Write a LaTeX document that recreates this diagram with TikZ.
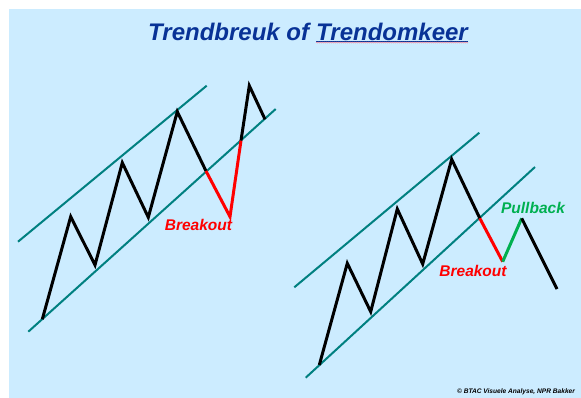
\documentclass[tikz,border=0pt]{standalone}
\usepackage{fontspec}
\setmainfont{Liberation Sans}
\usetikzlibrary{decorations.pathmorphing}
\definecolor{bgblue}{RGB}{204,236,255}
\definecolor{titleblue}{RGB}{8,50,150}
\definecolor{chan}{RGB}{0,128,128}
\definecolor{brk}{RGB}{255,0,0}
\definecolor{pull}{RGB}{0,176,80}
\definecolor{squig}{RGB}{240,140,160}
\tikzset{
  chanline/.style={draw=chan, line width=2pt},
  price/.style={draw=black, line width=3pt},
  brkline/.style={draw=brk, line width=3pt},
  pullline/.style={draw=pull, line width=3pt},
  lbl/.style={font=\fontsize{15.5}{18}\selectfont\bfseries\itshape, inner sep=0pt},
  titletxt/.style={font=\fontsize{24}{28}\selectfont\bfseries\itshape, text=titleblue, inner sep=0pt},
}
\begin{document}
\begin{tikzpicture}[x=1pt,y=-1pt]
\useasboundingbox (0,0) rectangle (581,398);
\fill[white] (0,0) rectangle (581,398);
\fill[bgblue] (9,9) rectangle (581,398);
% title
\node[titletxt, anchor=base west] (t1) at (148,40.3) {Trendbreuk of};
\node[titletxt, anchor=base west] (t2) at ([xshift=6.7pt]t1.base east) {Trendomkeer};
\draw[titleblue, line width=0.9pt] ([yshift=-0.9pt]t2.base west) -- ([yshift=-0.9pt]t2.base east);
\draw[squig, line width=0.5pt, decorate, decoration={zigzag, amplitude=0.5pt, segment length=2pt}]
  ([yshift=-2.3pt]t2.base west) -- ([yshift=-2.3pt]t2.base east);
% left chart
\coordinate (lu1) at (18,241.7);
\coordinate (lu2) at (206.7,85.7);
\coordinate (ll1) at (28.3,331.7);
\coordinate (ll2) at (275.7,109);
\draw[chanline] (lu1) -- (lu2);
\draw[chanline] (ll1) -- (ll2);
\coordinate (a0) at (42.3,319.3);
\coordinate (a1) at (70.7,216.7);
\coordinate (a2) at (95,265);
\coordinate (a3) at (122.3,162.7);
\coordinate (a4) at (148.3,217.3);
\coordinate (a5) at (177.3,111.7);
\coordinate (a6) at (206,171);
\coordinate (a7) at (230,216.7);
\coordinate (a8) at (241,140.5);
\coordinate (a9) at (249.3,85.7);
\coordinate (a10) at (265,119.3);
\draw[price] (a0) -- (a1) -- (a2) -- (a3) -- (a4) -- (a5) -- (a6);
\draw[brkline] (a6) -- (a7) -- (a8);
\draw[price] (a8) -- (a9) -- (a10);
\node[lbl, text=brk] (bk1) at (198.5,225) {Breakout};
% right chart
\coordinate (ru1) at (294.3,287.3);
\coordinate (ru2) at (479.3,132.7);
\coordinate (rl1) at (305.7,377.7);
\coordinate (rl2) at (535,167);
\draw[chanline] (ru1) -- (ru2);
\draw[chanline] (rl1) -- (rl2);
\coordinate (b0) at (319.3,365);
\coordinate (b1) at (347.3,263.3);
\coordinate (b2) at (370.7,311.7);
\coordinate (b3) at (397.3,209);
\coordinate (b4) at (422.7,264);
\coordinate (b5) at (451.7,159.3);
\coordinate (b6) at (479.8,218.3);
\coordinate (b7) at (502.7,261.7);
\coordinate (b8) at (521.7,218.3);
\coordinate (b9) at (557,289);
\draw[price] (b0) -- (b1) -- (b2) -- (b3) -- (b4) -- (b5) -- (b6);
\draw[brkline] (b6) -- (b7);
\draw[pullline] (b7) -- (b8);
\draw[price] (b8) -- (b9);
\node[lbl, text=brk] (bk2) at (473,271) {Breakout};
\node[lbl, text=pull] (pb) at (533,207.5) {Pullback};
% credit
\node[font=\fontsize{6.6}{8}\selectfont\bfseries\itshape, inner sep=0pt] (credit) at (516,392)
  {© BTAC Visuele Analyse, NPR Bakker};
\end{tikzpicture}
\end{document}
